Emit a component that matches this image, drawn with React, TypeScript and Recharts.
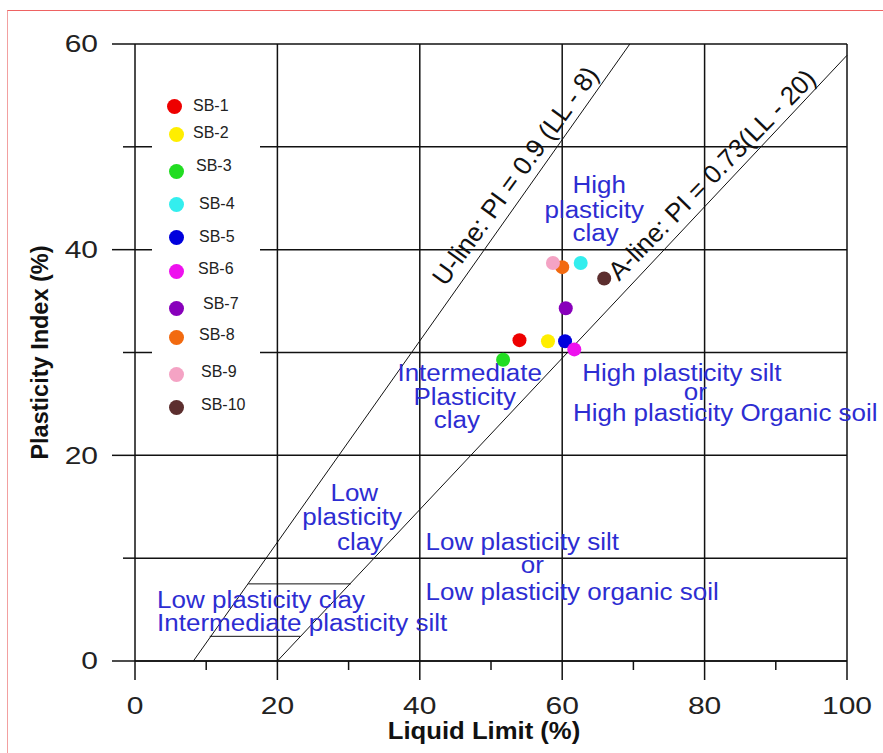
import React from 'react';
import {
  ScatterChart,
  Scatter,
  XAxis,
  YAxis,
  CartesianGrid,
  ReferenceLine,
  ReferenceDot,
  Legend,
} from 'recharts';

// ---------- data ----------
const sampleNames = ['SB-1', 'SB-2', 'SB-3', 'SB-4', 'SB-5', 'SB-6', 'SB-7', 'SB-8', 'SB-9', 'SB-10'];
const liquidLimit = [54.0, 58.0, 51.7, 62.6, 60.4, 61.7, 60.5, 60.0, 58.7, 65.9];
const plasticityIndex = [31.2, 31.1, 29.3, 38.7, 31.1, 30.3, 34.3, 38.3, 38.7, 37.2];
const sampleColors = ['#ee0000', '#ffee00', '#22dd22', '#33eeee', '#0000dd', '#ee11ee', '#8800bb', '#f26a10', '#f4a3c4', '#5c2e2e'];

const xTicks = [0, 10, 20, 30, 40, 50, 60, 70, 80, 90, 100];
const yTicks = [0, 10, 20, 30, 40, 50, 60];
const xGridValues = [20, 40, 60, 80, 100];

const uLine = [{ x: 8.2, y: 0 }, { x: 69.5, y: 60 }];
const aLine = [{ x: 20, y: 0 }, { x: 100, y: 58.9 }];
const zoneUpper = [{ x: 15.9, y: 7.5 }, { x: 30.3, y: 7.5 }];
const zoneLower = [{ x: 10.5, y: 2.4 }, { x: 23.2, y: 2.4 }];

const zoneLabels = [
  { x: 65.2, y: 46.3, text: 'High', anchor: 'middle' },
  { x: 64.5, y: 43.9, text: 'plasticity', anchor: 'middle' },
  { x: 64.7, y: 41.6, text: 'clay', anchor: 'middle' },
  { x: 47.0, y: 28.0, text: 'Intermediate', anchor: 'middle' },
  { x: 46.3, y: 25.7, text: 'Plasticity', anchor: 'middle' },
  { x: 45.2, y: 23.4, text: 'clay', anchor: 'middle' },
  { x: 76.8, y: 28.0, text: 'High plasticity silt', anchor: 'middle' },
  { x: 78.7, y: 26.2, text: 'or', anchor: 'middle' },
  { x: 82.9, y: 24.1, text: 'High plasticity Organic soil', anchor: 'middle' },
  { x: 30.8, y: 16.3, text: 'Low', anchor: 'middle' },
  { x: 30.5, y: 14.0, text: 'plasticity', anchor: 'middle' },
  { x: 31.6, y: 11.6, text: 'clay', anchor: 'middle' },
  { x: 54.4, y: 11.6, text: 'Low plasticity silt', anchor: 'middle' },
  { x: 55.8, y: 9.3, text: 'or', anchor: 'middle' },
  { x: 61.4, y: 6.7, text: 'Low plasticity organic soil', anchor: 'middle' },
  { x: 3.1, y: 5.9, text: 'Low plasticity clay', anchor: 'start' },
  { x: 3.1, y: 3.7, text: 'Intermediate plasticity silt', anchor: 'start' },
];

const lineLabels = [
  { x: 53.4, y: 47.2, text: 'U-line: PI = 0.9 (LL - 8)', angle: -54 },
  { x: 81.0, y: 47.3, text: 'A-line: PI = 0.73(LL - 20)', angle: -45.5 },
];

// ---------- layout / style ----------
const FONT = '"Liberation Sans", Arial, Helvetica, sans-serif';
const INK = '#111';
const BLUE = '#2d2dd2';
const legendSlots = [
  { cx: 22, cy: 24, tx: 41, ty: 24 },
  { cx: 24, cy: 52, tx: 41, ty: 51 },
  { cx: 24, cy: 89, tx: 44, ty: 84 },
  { cx: 24, cy: 122, tx: 47, ty: 122 },
  { cx: 24, cy: 155, tx: 47, ty: 155 },
  { cx: 24, cy: 189, tx: 46, ty: 187 },
  { cx: 24, cy: 226, tx: 51, ty: 222 },
  { cx: 24, cy: 255, tx: 47, ty: 253 },
  { cx: 24, cy: 292, tx: 49, ty: 290 },
  { cx: 24, cy: 325, tx: 49, ty: 323 },
];

const XTick = (props: any) => {
  const { x, y, payload } = props;
  const v = payload.value;
  const major = v % 20 === 0;
  return (
    <g>
      <line x1={x} x2={x} y1={y} y2={y + (major ? 19 : 9)} stroke={INK} strokeWidth={1.5} />
      {major && (
        <text
          transform={`translate(${x},${y + 45}) scale(1.25,1)`}
          textAnchor="middle"
          dominantBaseline="central"
          fontSize={24}
          fontFamily={FONT}
          fill="#222"
        >
          {v}
        </text>
      )}
    </g>
  );
};

const YTick = (props: any) => {
  const { x, y, payload } = props;
  const v = payload.value;
  const major = v % 20 === 0;
  return (
    <g>
      <line x1={x - (major ? 23 : 12)} x2={x} y1={y} y2={y} stroke={INK} strokeWidth={1.5} />
      {major && (
        <text
          transform={`translate(${x - 37},${y}) scale(1.25,1)`}
          textAnchor="end"
          dominantBaseline="central"
          fontSize={24}
          fontFamily={FONT}
          fill="#222"
        >
          {v}
        </text>
      )}
    </g>
  );
};

const XTitle = (props: any) => {
  const vb = props.viewBox || {};
  const cx = vb.x + vb.width / 2 - 7;
  return (
    <text
      transform={`translate(${cx},${vb.y + 70}) scale(1.07,1)`}
      textAnchor="middle"
      dominantBaseline="central"
      fontSize={24}
      fontWeight="bold"
      fontFamily={FONT}
      fill={INK}
    >
      Liquid Limit (%)
    </text>
  );
};

const YTitle = (props: any) => {
  const vb = props.viewBox || {};
  const cy = vb.y + vb.height / 2;
  return (
    <text
      transform={`translate(40,${cy}) rotate(-90)`}
      textAnchor="middle"
      dominantBaseline="central"
      fontSize={23.5}
      fontWeight="bold"
      fontFamily={FONT}
      fill={INK}
    >
      Plasticity Index (%)
    </text>
  );
};

const renderLegend = (props: any) => {
  const payload = props.payload || [];
  return (
    <div style={{ position: 'relative', width: 108, height: 343, background: '#fff' }}>
      {payload.map((entry: any) => {
        const i = sampleNames.indexOf(entry.value);
        if (i < 0) return null;
        const s = legendSlots[i];
        return (
          <React.Fragment key={entry.value}>
            <div
              style={{
                position: 'absolute',
                left: s.cx - 7.5,
                top: s.cy - 7.5,
                width: 15,
                height: 15,
                borderRadius: '50%',
                background: sampleColors[i],
              }}
            />
            <div
              style={{
                position: 'absolute',
                left: s.tx,
                top: s.ty - 10,
                height: 20,
                lineHeight: '20px',
                fontSize: 16,
                fontFamily: FONT,
                color: '#222',
                whiteSpace: 'nowrap',
              }}
            >
              {entry.value}
            </div>
          </React.Fragment>
        );
      })}
    </div>
  );
};

export default function App() {
  return (
    <div style={{ position: 'absolute', left: 0, top: 0, width: 883, height: 753, background: '#fff', overflow: 'hidden' }}>
      <div
        style={{
          position: 'absolute',
          left: 7,
          top: 10,
          width: 876,
          height: 743,
          borderLeft: '1px solid #f2a0a0',
          borderTop: '1.5px solid #ee6262',
          boxSizing: 'border-box',
        }}
      />
      <div style={{ position: 'absolute', left: 0, top: 0 }}>
        <ScatterChart width={883} height={753} margin={{ top: 44, right: 36, bottom: 91, left: 134 }}>
          <CartesianGrid horizontal vertical={false} stroke={INK} strokeWidth={1.5} />
          <XAxis
            type="number"
            dataKey="x"
            domain={[0, 100]}
            ticks={xTicks}
            interval={0}
            height={1}
            tickSize={0}
            tickMargin={0}
            tickLine={false}
            axisLine={{ stroke: INK, strokeWidth: 1.5 }}
            tick={<XTick />}
            label={<XTitle />}
            allowDataOverflow
          />
          <YAxis
            type="number"
            dataKey="y"
            domain={[0, 60]}
            ticks={yTicks}
            interval={0}
            width={1}
            tickSize={0}
            tickMargin={0}
            tickLine={false}
            axisLine={{ stroke: INK, strokeWidth: 1.5 }}
            tick={<YTick />}
            label={<YTitle />}
            allowDataOverflow
          />
          {xGridValues.map((v) => (
            <ReferenceLine key={`g${v}`} x={v} stroke={INK} strokeWidth={1.5} />
          ))}
          <ReferenceLine segment={uLine} stroke={INK} strokeWidth={1} ifOverflow="visible" />
          <ReferenceLine segment={aLine} stroke={INK} strokeWidth={1} ifOverflow="visible" />
          <ReferenceLine segment={zoneUpper} stroke={INK} strokeWidth={1} ifOverflow="visible" />
          <ReferenceLine segment={zoneLower} stroke={INK} strokeWidth={1} ifOverflow="visible" />
          {zoneLabels.map((l, i) => (
            <ReferenceDot
              key={`z${i}`}
              x={l.x}
              y={l.y}
              r={0}
              ifOverflow="visible"
              shape={(p: any) => (
                <text
                  transform={`translate(${p.cx},${p.cy}) scale(1.13,1)`}
                  textAnchor={l.anchor}
                  dominantBaseline="central"
                  fontSize={23}
                  fontFamily={FONT}
                  fill={BLUE}
                >
                  {l.text}
                </text>
              )}
            />
          ))}
          {lineLabels.map((l, i) => (
            <ReferenceDot
              key={`l${i}`}
              x={l.x}
              y={l.y}
              r={0}
              ifOverflow="visible"
              shape={(p: any) => (
                <text
                  transform={`translate(${p.cx},${p.cy}) rotate(${l.angle})`}
                  textAnchor="middle"
                  dominantBaseline="central"
                  fontSize={26}
                  fontFamily={FONT}
                  fill={INK}
                >
                  {l.text}
                </text>
              )}
            />
          ))}
          {sampleNames.map((name, i) => (
            <Scatter
              key={name}
              name={name}
              data={[{ x: liquidLimit[i], y: plasticityIndex[i] }]}
              fill={sampleColors[i]}
              isAnimationActive={false}
              shape={(p: any) => <circle cx={p.cx} cy={p.cy} r={7} fill={sampleColors[i]} />}
            />
          ))}
          <Legend
            layout="horizontal"
            verticalAlign="middle"
            align="center"
            content={renderLegend}
            wrapperStyle={{ left: 152, top: 82, width: 108, height: 343 }}
          />
        </ScatterChart>
      </div>
    </div>
  );
}
